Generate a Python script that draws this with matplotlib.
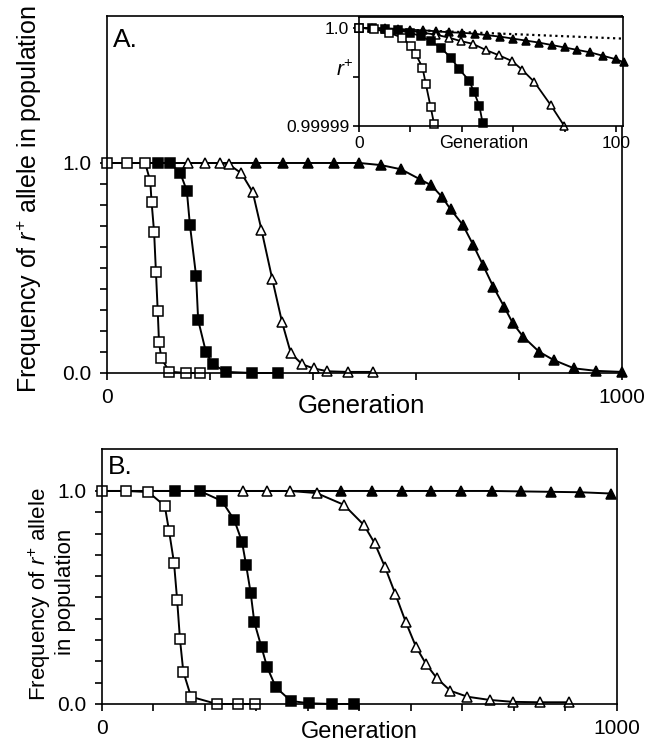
import numpy as np
import matplotlib
matplotlib.use("Agg")
import matplotlib.pyplot as plt

plt.rcParams['font.family'] = ['Liberation Sans', 'DejaVu Sans']
plt.rcParams['mathtext.fontset'] = 'custom'
plt.rcParams['mathtext.rm'] = 'Liberation Sans'
plt.rcParams['mathtext.it'] = 'Liberation Sans:italic'

# --- panel A, main plot ---
a_osq_x = [0, 38, 74, 84, 86.5, 91.5, 95, 98.5, 101, 105.5, 121, 154, 180]
a_osq_y = [1, 1, 1, 0.914, 0.816, 0.67, 0.482, 0.295, 0.146, 0.07, 0.006, 0, 0]
a_fsq_x = [0, 100, 122, 142, 155, 161, 173, 177, 192, 205, 232, 282, 333]
a_fsq_y = [1, 1, 1, 0.954, 0.868, 0.705, 0.462, 0.252, 0.101, 0.041, 0.005, 0, 0]
a_otr_x = [0, 158, 190, 219, 236, 261, 283, 300, 321, 340, 357, 379, 401, 428, 467, 516]
a_otr_y = [1, 1, 1, 1, 0.994, 0.951, 0.861, 0.681, 0.446, 0.241, 0.094, 0.041,
           0.022, 0.008, 0.005, 0.005]
a_ftr_x = [0, 290, 341, 391, 441, 490, 532, 571, 608, 630, 650, 667, 691, 711, 730,
           750, 771, 788, 808, 839, 867, 907, 950, 1000]
a_ftr_y = [1, 1, 1, 1, 1, 1, 0.99, 0.97, 0.922, 0.893, 0.84, 0.78, 0.705, 0.61, 0.514,
           0.411, 0.316, 0.237, 0.173, 0.101, 0.062, 0.022, 0.01, 0.005]

# --- panel A, inset (r+ close to 1) ---
i_osq_x = [0, 5.8, 11.7, 16.9, 20.1, 22.1, 24.7, 26, 27.9, 29.2]
i_osq_y = [1.0, 0.9999999, 0.9999995, 0.99999899, 0.99999815, 0.99999731,
           0.99999596, 0.99999428, 0.99999192, 0.99999024]
i_fsq_x = [0, 5, 10, 15, 20, 24, 27.9, 31.8, 35.7, 39, 42.9, 44.8, 46.8, 48.1]
i_fsq_y = [1.0, 0.99999995, 0.9999999, 0.99999975, 0.9999995, 0.99999916,
           0.99999865, 0.99999798, 0.99999697, 0.99999579, 0.99999461,
           0.99999343, 0.99999209, 0.99999034]
i_otr_x = [0, 10, 20, 30, 35, 39.6, 44.2, 49.4, 54.5, 59.7, 63.6, 68.2, 74.7, 79.9]
i_otr_y = [1.0, 0.9999999, 0.9999997, 0.9999993, 0.999999, 0.99999865,
           0.99999838, 0.99999774, 0.9999972, 0.9999966, 0.9999957,
           0.9999945, 0.9999921, 0.99999]
i_ftr_x = [0, 5, 10, 15, 20, 25, 30, 35, 40, 45, 50, 55, 60, 65, 70, 75, 80, 85,
           90, 95, 100, 103]
i_ftr_y = [1.0, 0.99999998, 0.99999995, 0.9999999, 0.9999998, 0.99999975,
           0.99999965, 0.99999955, 0.9999995, 0.9999994, 0.99999925, 0.9999991,
           0.9999989, 0.9999987, 0.9999985, 0.99999825, 0.999998, 0.99999775,
           0.9999975, 0.99999715, 0.9999968, 0.9999965]
i_dot_x = [0, 103]
i_dot_y = [1.0, 0.9999989]

# --- panel B ---
b_osq_x = [0, 46, 90, 122, 130.5, 140, 146, 151.5, 158, 173, 223, 264, 297]
b_osq_y = [1, 1, 0.995, 0.93, 0.81, 0.662, 0.49, 0.305, 0.152, 0.034, 0, 0, 0]
b_fsq_x = [0, 142, 190, 233, 257, 272, 280, 289, 296, 310, 321, 338, 367, 403, 446, 490]
b_fsq_y = [1, 1, 1, 0.953, 0.864, 0.762, 0.653, 0.52, 0.384, 0.266, 0.172, 0.078,
           0.014, 0.003, 0, 0]
b_otr_x = [0, 274.5, 320, 366, 417, 470, 509, 530, 550, 570, 590, 610, 630, 651,
           677, 710, 753, 798, 851, 908]
b_otr_y = [1, 1, 1, 1, 0.99, 0.935, 0.84, 0.754, 0.642, 0.516, 0.386, 0.269, 0.186,
           0.12, 0.062, 0.034, 0.019, 0.01, 0.008, 0.008]
b_ftr_x = [0, 465, 524, 582, 640, 697, 757, 814, 872, 929, 989]
b_ftr_y = [1, 1, 1, 1, 1, 1, 1, 0.998, 0.996, 0.994, 0.988]

ylab = "Frequency of $r^{+}$ allele in population"
ylab_b1 = "Frequency of $r^{+}$ allele"
ylab_b2 = "in population"

fig = plt.figure(figsize=(6.52, 7.44), dpi=100)

styles = [("^", "black"), ("^", "white"), ("s", "black"), ("s", "white")]


def draw(ax, series, ms, lw, first_marker):
    for (x, y), (mk, fc) in zip(series, styles):
        me = None if (first_marker or fc == "white" and mk == "s") else list(range(1, len(x)))
        ax.plot(x, y, color="black", lw=lw, marker=mk, ms=ms, mfc=fc, mec="black",
                mew=1.1, markevery=me, clip_on=False)


def style_axes(ax, lw=1.2):
    for s in ax.spines.values():
        s.set_linewidth(lw)
    ax.tick_params(direction="out", width=lw, length=5)


# panel A
axA = fig.add_axes([0.1641, 0.4987, 0.7899, 0.4798])
draw(axA, [(a_ftr_x, a_ftr_y), (a_otr_x, a_otr_y), (a_fsq_x, a_fsq_y), (a_osq_x, a_osq_y)],
     6.5, 1.4, False)
axA.set_xlim(0, 1000)
axA.set_ylim(0, 1.7)
axA.set_xticks(np.arange(0, 1001, 200), ["0", "", "", "", "", "1000"])
axA.set_yticks(np.arange(0, 1.01, 0.1), ["0.0"] + [""] * 9 + ["1.0"])
style_axes(axA)
axA.tick_params(labelsize=15, pad=6)
axA.set_xlabel("Generation", fontsize=18.5)
axA.xaxis.set_label_coords(0.495, -0.06)
axA.set_ylabel(ylab, fontsize=18)
axA.yaxis.set_label_coords(-0.122, 0.487)
axA.text(0.012, 0.965, "A.", transform=axA.transAxes, fontsize=19, va="top", ha="left")

# inset
axI = fig.add_axes([0.5506, 0.8306, 0.4044, 0.1465])
axI.plot(i_dot_x, i_dot_y, color="black", lw=1.6, ls=(0, (1, 1.6)))
draw(axI, [(i_ftr_x, i_ftr_y), (i_otr_x, i_otr_y), (i_fsq_x, i_fsq_y), (i_osq_x, i_osq_y)],
     5.3, 1.3, True)
axI.set_xlim(0, 102.6)
axI.set_ylim(0.99999, 1.0000011)
axI.set_xticks(np.arange(0, 101, 20), ["0", "", "", "", "", "100"])
axI.set_yticks([0.99999, 0.999995, 1.0], ["0.99999", "", "1.0"])
style_axes(axI)
axI.tick_params(labelsize=12.5, length=4, pad=3)
axI.set_xlabel("Generation", fontsize=13)
axI.xaxis.set_label_coords(0.474, -0.08)
axI.set_ylabel("$r^{+}$", fontsize=15, rotation=0)
axI.yaxis.set_label_coords(-0.055, 0.42)

# panel B
axB = fig.add_axes([0.1564, 0.0538, 0.7894, 0.3427])
draw(axB, [(b_ftr_x, b_ftr_y), (b_otr_x, b_otr_y), (b_fsq_x, b_fsq_y), (b_osq_x, b_osq_y)],
     6.5, 1.4, False)
axB.set_xlim(0, 1000)
axB.set_ylim(0, 1.197)
axB.set_xticks(np.arange(0, 1001, 100), ["0"] + [""] * 9 + ["1000"])
axB.set_yticks(np.arange(0, 1.01, 0.1), ["0.0"] + [""] * 9 + ["1.0"])
style_axes(axB)
axB.tick_params(labelsize=15, pad=6)
axB.set_xlabel("Generation", fontsize=17)
axB.xaxis.set_label_coords(0.5, -0.065)
# two-line y label, written as two texts so each line sits where it does in the figure
axB.text(-0.1205, 0.431, ylab_b1, transform=axB.transAxes, fontsize=16,
         rotation=90, ha="center", va="center")
axB.text(-0.070, 0.439, ylab_b2, transform=axB.transAxes, fontsize=16,
         rotation=90, ha="center", va="center")
axB.text(0.012, 0.975, "B.", transform=axB.transAxes, fontsize=19, va="top", ha="left")

fig.savefig("out.png", dpi=100)
